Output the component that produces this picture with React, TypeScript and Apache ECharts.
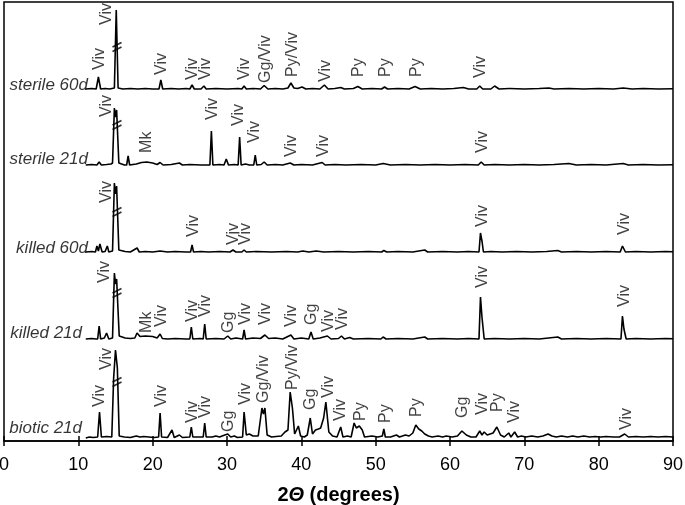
import React, { useEffect, useRef } from "react";
import * as echarts from "echarts";

// 2θ axis ticks
const xTicks = [0, 10, 20, 30, 40, 50, 60, 70, 80, 90];

// Sample names (top to bottom) and vertical offsets of each pattern
const sampleNames = ["sterile 60d", "sterile 21d", "killed 60d", "killed 21d", "biotic 21d"];
const sampleOffsets = [352, 276, 189, 102, 3];
const nameLift = [5, 7, 5, 7, 11];
const nameX = [11.3, 11.3, 11.3, 10.5, 10.5];
const breakLift = [42, 40, 40, 46, 56];

// Patterns: [2θ, intensity above baseline]
const sterile60: number[][] = [[11.0,0],[11.8,0.5],[12.4,0],[12.7,12],[13.0,0],[13.6,0.5],[14.2,0],[14.85,1],[15.1,79],[15.35,1],[16.0,0],[17.0,0.5],[18.0,0],[19.0,0.5],[20.0,0],[20.85,0],[21.1,9],[21.35,0],[22.5,0.5],[23.5,0],[24.5,0.5],[25.0,0],[25.3,4],[25.6,0],[26.5,0],[26.9,3],[27.2,0],[28.5,0.5],[30,0],[31.5,0.5],[32.0,0],[32.3,3],[32.6,0],[33.5,0.5],[34.5,0],[35.0,3.5],[35.5,0],[36.5,0.5],[37.5,0],[38.2,1],[38.6,6],[39.0,1],[39.5,0.5],[40.1,2],[40.6,0],[41.5,0.5],[42.5,0],[43.1,4],[43.6,0],[44.5,0.5],[45.3,1.5],[45.8,0],[47,0.5],[47.6,2.5],[48.2,0],[49.5,0.5],[50.8,0],[51.2,2],[51.6,0],[53,0.5],[54.5,0],[55.3,2.5],[56,0],[57.5,0.5],[59,0],[60.5,0.5],[61.8,1.5],[62.5,0],[63.6,0],[64.0,3],[64.4,0],[65.5,0],[66.0,3],[66.6,0],[68,0.5],[70,0],[72,0.5],[73.3,1],[74,0],[76,0.5],[78,0],[80,0.5],[82,0],[83.3,1],[84.5,0],[86,0.5],[88,0],[90,0.3]];
const sterile21: number[][] = [[11.0,0],[11.8,0.5],[12.5,0],[12.8,3],[13.1,0],[13.8,0.5],[14.4,1],[14.6,2],[14.85,57],[15.0,48],[15.15,55],[15.45,2],[16.2,0],[16.5,0],[16.7,9],[16.9,0],[17.8,1],[18.5,2.5],[19.2,3],[20.0,2],[20.6,0.5],[21.0,2.5],[21.4,0],[22.5,0.5],[23.6,2],[24,0],[25,0.5],[26.5,0],[27.7,0],[27.9,34],[28.1,0],[29.0,0.5],[29.6,0],[29.9,6],[30.2,0],[31.0,0.5],[31.5,0],[31.7,28],[31.9,0],[32.5,1],[33.0,0],[33.6,0],[33.8,10],[34.0,0],[34.6,0.5],[35.0,3],[35.4,0],[36.5,0.5],[37.5,0],[38.5,2],[39,0],[40,0.5],[41.5,0],[42.8,2.5],[43.2,0],[44.5,0.5],[46,0],[48,0.5],[50,0],[51,1.5],[52,0],[54,0.5],[56,0],[58,0.5],[60,0],[62,0.5],[63.8,0],[64.2,3],[64.6,0],[66,0.5],[68,0],[70,0.5],[72,0],[74,0.5],[76,1.5],[77,0],[79,0.5],[81,0],[83.3,1.5],[84,0],[86,0.5],[88,0],[90,0.3]];
const killed60: number[][] = [[11.0,0],[11.8,0.5],[12.3,0],[12.5,6],[12.7,1],[12.9,8],[13.2,0],[13.6,0.5],[13.9,6],[14.1,0],[14.6,1],[14.85,69],[15.0,58],[15.15,66],[15.45,2],[16.3,0.5],[17,0],[17.9,4],[18.2,0],[19,0.5],[20,0],[21,1],[22,0],[23,0.5],[24.5,0],[25.1,0],[25.3,7],[25.5,0],[26.5,0.5],[27.5,0],[29,0.5],[30.4,0],[30.8,2],[31.2,0],[32.0,0],[32.3,2],[32.6,0],[34,0.5],[36,0],[38,0.5],[39.5,0],[40.2,1],[41,0],[42,1],[43,0],[45,0.5],[47,0],[49,0.5],[50.8,0],[51.1,1.5],[51.5,0],[53,0.5],[55,0],[56.6,2],[57,0],[59,0.5],[61,0],[62.5,0.5],[63.9,0],[64.1,19],[64.3,11],[64.5,0],[65.5,0.5],[67,0],[69,0.5],[71,0],[73,0.5],[74.5,1.5],[75,0],[77,0.5],[79,0],[81,0.5],[82.9,0],[83.2,6],[83.6,0],[85,0.5],[87,0],[89,0.5],[90,0.3]];
const killed21: number[][] = [[11.0,0],[11.8,0.5],[12.4,0],[12.6,0],[12.8,13],[13.0,0],[13.5,1],[13.8,6],[14.1,0],[14.6,1],[14.85,66],[15.0,55],[15.15,60],[15.5,3],[16.3,1],[17.0,0.5],[17.6,1],[17.9,6],[18.3,2.5],[19,3],[20,2.5],[20.6,1],[21.0,5],[21.3,0.5],[22,0],[23,0.5],[24.5,0],[25.0,0],[25.2,12],[25.4,0],[26.4,0.5],[26.8,0],[27.0,15],[27.2,0],[28.5,0.5],[29.6,0],[30.1,3],[30.5,0],[31.2,1],[32.1,0],[32.3,9],[32.5,0],[33.5,1],[34.5,0.5],[35.1,4],[35.6,0.5],[36.5,1],[37.5,0],[38.6,4],[39.0,0],[40,1],[41.0,0],[41.3,7],[41.6,0],[42.5,1],[43.5,3],[44,0],[45,0.5],[45.4,3],[45.8,0],[46.5,1.5],[47,0],[49,0.5],[50.7,0],[51.0,2],[51.4,0],[53,0.5],[55,0],[56.6,2],[57,0],[59,0.5],[61,0],[62.5,0.5],[63.9,0],[64.1,42],[64.3,22],[64.6,0],[66,0.5],[68,0],[70,0.5],[72,0],[74.5,2],[75,0],[77,0.5],[79,0],[81,0.5],[83.0,0],[83.2,23],[83.4,10],[83.7,0],[85,0.5],[87,0],[89,0.5],[90,0.3]];
const biotic21: number[][] = [[11.0,0],[11.5,1],[12.0,0.5],[12.6,1],[12.85,26],[13.1,1],[13.8,1.5],[14.5,1],[14.75,60],[15.0,88],[15.25,70],[15.5,2],[16.2,1],[17,0.5],[17.8,2],[18.3,1],[18.8,1.5],[19.5,1],[20.2,0.5],[20.8,1],[21.0,25],[21.2,1],[22,0.5],[22.6,8],[22.9,0.5],[23.6,3],[24,0.5],[25.0,1],[25.2,11],[25.4,1],[26.3,1],[26.8,1],[27.0,15],[27.2,1],[28,1],[28.5,2],[29,1],[29.7,3],[30.1,4],[30.5,1],[31,2],[31.4,0.5],[32.1,1],[32.3,26],[32.6,3],[33,4],[33.5,2],[34.2,2],[34.7,30],[34.9,24],[35.1,30],[35.4,3],[36,1],[36.6,1.5],[37.3,2],[37.8,6],[38.2,8],[38.5,46],[38.8,30],[39.1,4],[39.6,12],[39.9,2],[40.4,1],[40.8,3],[41.2,20],[41.5,4],[41.9,8],[42.3,9],[42.6,10],[43.0,20],[43.3,36],[43.7,6],[44.2,2],[44.8,1],[45.3,11],[45.6,1],[46.2,2],[46.7,1],[47.1,15],[47.4,10],[47.8,12],[48.2,8],[48.5,1],[49.5,2],[50.3,1],[50.9,2],[51.1,9],[51.3,1],[52.0,1],[52.8,3],[53.2,1],[54.0,3],[54.5,2],[55.0,5],[55.4,13],[55.8,9],[56.2,7],[56.6,4],[57.1,2],[57.6,1],[58.4,2],[59,1],[59.5,2],[60.3,1],[61,2],[61.6,7],[62.2,3],[62.8,1],[63.5,1],[64.0,7],[64.3,3],[64.6,6],[65.0,3],[65.4,4],[65.8,5],[66.3,11],[66.8,3],[67.3,1],[67.9,5],[68.2,1],[68.7,6],[69.1,1],[69.6,2],[70.2,1],[71,2],[71.8,1],[72.5,2],[73.2,4],[73.7,2],[74.3,1],[75,2],[75.8,1],[76.5,2],[77.2,1],[78,2],[78.8,1],[79.5,1.5],[80.3,1],[81,1.5],[82,1],[82.8,1],[83.5,4],[84,1],[85,1.5],[86,1],[87,1.5],[88,1],[89,1.5],[90,1]];
const patterns = [sterile60, sterile21, killed60, killed21, biotic21];

// Phase annotations: [2θ, height above baseline of label start, text]
const annSterile60: [number, number, string][] = [[12.7,19,"Viv"],[13.7,64,"Viv"],[21.1,14,"Viv"],[25.2,9,"Viv"],[27.0,9,"Viv"],[32.2,9,"Viv"],[35.0,6,"Gg/Viv"],[38.7,12,"Py/Viv"],[43.1,7,"Viv"],[47.6,12,"Py"],[51.2,12,"Py"],[55.3,12,"Py"],[64.0,11,"Viv"]];
const annSterile21: [number, number, string][] = [[13.6,48,"Viv"],[19.1,12,"Mk"],[27.9,45,"Viv"],[31.4,39,"Viv"],[33.6,22,"Viv"],[38.5,8,"Viv"],[42.8,8,"Viv"],[64.3,12,"Viv"]];
const annKilled60: [number, number, string][] = [[13.7,49,"Viv"],[25.3,15,"Viv"],[30.8,7,"Viv"],[32.3,7,"Viv"],[64.3,25,"Viv"],[83.3,17,"Viv"]];
const annKilled21: [number, number, string][] = [[13.4,56,"Viv"],[19.1,6,"Mk"],[21.0,12,"Viv"],[25.2,17,"Viv"],[27.0,22,"Viv"],[30.1,6,"Gg"],[32.3,14,"Viv"],[35.1,14,"Viv"],[38.6,12,"Viv"],[41.3,14,"Gg"],[43.5,7,"Viv"],[45.4,9,"Viv"],[64.3,51,"Viv"],[83.3,32,"Viv"]];
const annBiotic21: [number, number, string][] = [[12.7,31,"Viv"],[13.6,68,"Viv"],[21.0,31,"Viv"],[25.2,15,"Viv"],[27.0,20,"Viv"],[30.1,6,"Gg"],[32.3,33,"Viv"],[34.8,35,"Gg/Viv"],[38.7,48,"Py/Viv"],[41.1,28,"Gg"],[43.5,40,"Viv"],[45.2,17,"Viv"],[47.8,17,"Py"],[51.2,15,"Py"],[55.3,21,"Py"],[61.6,20,"Gg"],[64.3,23,"Viv"],[66.3,26,"Py"],[68.5,15,"Viv"],[83.6,8,"Viv"]];
const annotations = [annSterile60, annSterile21, annKilled60, annKilled21, annBiotic21];

const FONT = "'Liberation Sans', Arial, sans-serif";

export default function App() {
  const ref = useRef<HTMLDivElement>(null);
  useEffect(() => {
    if (!ref.current) return;
    const chart = echarts.init(ref.current, null, { renderer: "svg" });
    const lineSeries = patterns.map((p, i) => ({
      type: "line",
      data: p.map(([x, v]) => [x, v + sampleOffsets[i]]),
      showSymbol: false,
      symbol: "none",
      lineStyle: { color: "#000", width: 1.6 },
      z: 3,
      silent: true,
    }));
    const annData: any[] = [];
    annotations.forEach((list, i) =>
      list.forEach(([x, h, t]) => annData.push([x, h + sampleOffsets[i], t]))
    );
    const nameData = sampleNames.map((n, i) => [nameX[i], sampleOffsets[i] + nameLift[i], n]);
    const breakData = sampleOffsets.map((o, i) => [15.2, o + breakLift[i]]);
    chart.setOption({
      animation: false,
      grid: {
        left: 4, right: 12, top: 2, bottom: 64, show: true, borderColor: "#000", borderWidth: 1.5,
        containLabel: false, outerBoundsMode: "none",
      },
      xAxis: [
        {
          type: "value", min: 0, max: 90, interval: 10, position: "bottom",
          axisLine: { lineStyle: { color: "#000", width: 1.5 } },
          axisTick: { show: true, inside: false, length: 5, lineStyle: { color: "#000", width: 1.5 } },
          axisLabel: { color: "#000", fontSize: 18, fontFamily: FONT, margin: 14, formatter: (v: number) => (xTicks.includes(v) ? String(v) : "") },
          splitLine: { show: false },
          name: "{a|2}{b|Θ}{a| (degrees)}",
          nameLocation: "middle",
          nameGap: 43,
          nameTextStyle: {
            rich: {
              a: { fontSize: 20, fontWeight: "bold", fontFamily: FONT, color: "#000" },
              b: { fontSize: 20, fontWeight: "bold", fontStyle: "italic", fontFamily: FONT, color: "#000" },
            },
          },
        },
        {
          type: "value", min: 0, max: 90, interval: 10, position: "bottom",
          axisLine: { show: false },
          axisTick: { show: true, inside: true, length: 5, lineStyle: { color: "#000", width: 1.5 } },
          axisLabel: { show: false },
          splitLine: { show: false },
        },
      ],
      yAxis: { type: "value", min: 0, max: 439, show: false },
      series: [
        ...lineSeries,
        {
          type: "scatter",
          data: annData,
          symbolSize: 0.1,
          itemStyle: { color: "transparent" },
          silent: true,
          z: 4,
          label: {
            show: true,
            formatter: (p: any) => p.value[2],
            position: [0, 0],
            rotate: 90,
            align: "left",
            verticalAlign: "middle",
            fontSize: 16,
            fontFamily: FONT,
            color: "#111",
          },
        },
        {
          type: "scatter",
          data: nameData,
          symbolSize: 0.1,
          itemStyle: { color: "transparent" },
          silent: true,
          z: 4,
          label: {
            show: true,
            formatter: (p: any) => p.value[2],
            position: "left",
            distance: 0,
            fontSize: 17,
            fontStyle: "italic",
            fontFamily: FONT,
            color: "#000",
          },
        },
        {
          type: "scatter",
          data: breakData,
          symbol: "path://M0,5L10,0M0,10L10,5",
          symbolSize: [9, 9],
          itemStyle: { color: "none", borderColor: "#000", borderWidth: 1.8 },
          silent: true,
          z: 5,
        },
      ],
    });
    return () => chart.dispose();
  }, []);
  return <div ref={ref} style={{ position: "fixed", left: 0, top: 0, width: 685, height: 505 }} />;
}
